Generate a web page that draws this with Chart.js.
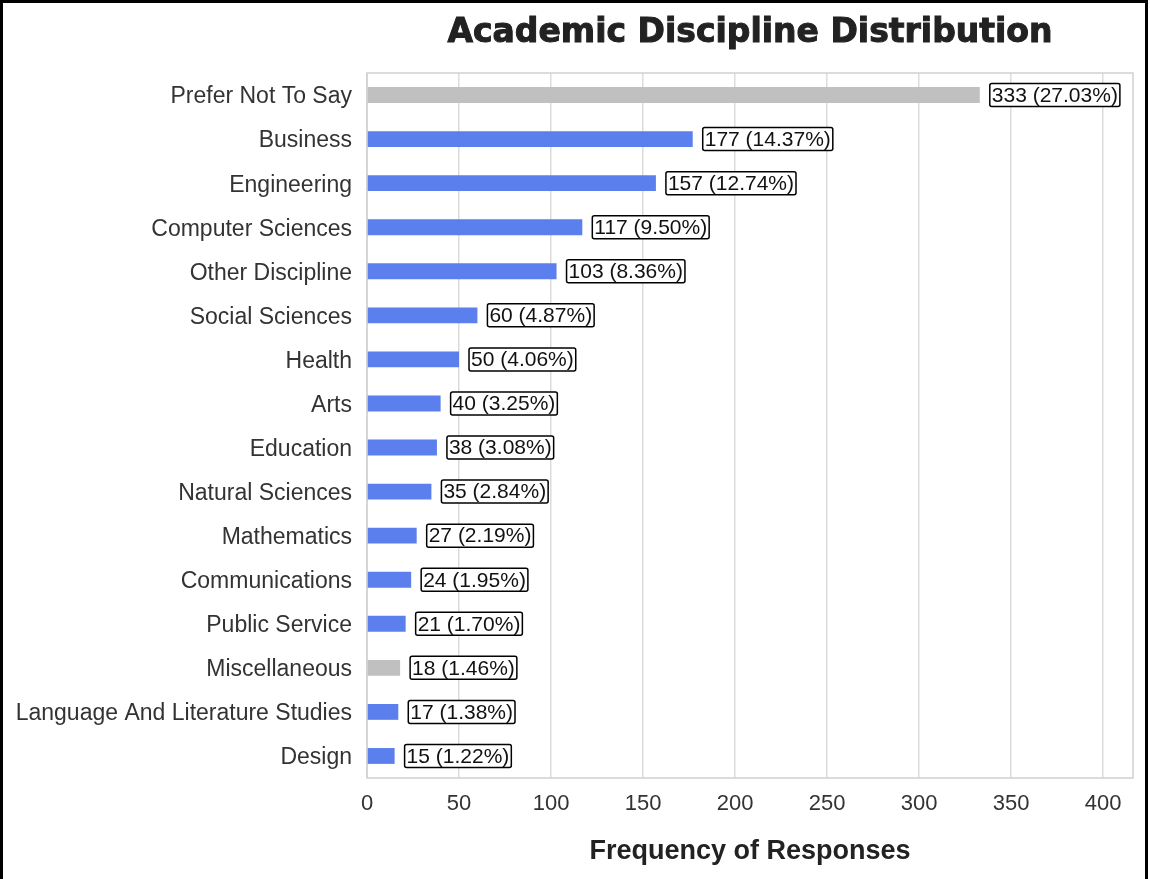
<!DOCTYPE html>
<html>
<head>
<meta charset="utf-8">
<title>Academic Discipline Distribution</title>
<script src="https://cdn.jsdelivr.net/npm/chart.js@4"></script>
<style>
  body { margin: 0; background: #fff; }
  canvas { display: block; }
</style>
</head>
<body>
<canvas id="myChart" width="1150" height="879"></canvas>
<script>
let disciplines = ["Prefer Not To Say", "Business", "Engineering", "Computer Sciences",
    "Other Discipline", "Social Sciences", "Health", "Arts", "Education",
    "Natural Sciences", "Mathematics", "Communications", "Public Service",
    "Miscellaneous", "Language And Literature Studies", "Design"];
let responses = [333, 177, 157, 117, 103, 60, 50, 40, 38, 35, 27, 24, 21, 18, 17, 15];
let xTicks = [0, 50, 100, 150, 200, 250, 300, 350, 400];

let blue = "#5b7fed";
let grey = "#c0c0c0";
// unspecified answers are greyed out
let barColors = disciplines.map(d => (d == "Prefer Not To Say" || d == "Miscellaneous") ? grey : blue);

let total = responses.reduce((a, b) => a + b, 0);
let fontFamily = "'Liberation Sans', Arial, sans-serif";

// title, plot frame and outer page border
const frame = {
    id: "frame",
    beforeDatasetsDraw(chart) {
        const {ctx, chartArea: a} = chart;
        ctx.save();
        ctx.strokeStyle = "#d0d0d0";
        ctx.lineWidth = 1.5;
        ctx.strokeRect(a.left, a.top, a.right - a.left, a.bottom - a.top);
        ctx.restore();
    },
    afterDraw(chart) {
        const {ctx, chartArea: a} = chart;
        ctx.save();
        ctx.font = "bold 33px 'DejaVu Sans', sans-serif";
        ctx.fillStyle = "#222";
        ctx.strokeStyle = "#222";
        ctx.lineWidth = 1;
        ctx.textAlign = "center";
        ctx.textBaseline = "middle";
        ctx.fillText("Academic Discipline Distribution", (a.left + a.right) / 2, 33);
        ctx.strokeText("Academic Discipline Distribution", (a.left + a.right) / 2, 33);

        ctx.strokeStyle = "#000";
        ctx.lineWidth = 3;
        ctx.beginPath();
        ctx.moveTo(1.5, chart.height);
        ctx.lineTo(1.5, 1.5);
        ctx.lineTo(1146.5, 1.5);
        ctx.lineTo(1146.5, chart.height);
        ctx.stroke();
        ctx.restore();
    }
};

// boxed "count (percent)" labels after each bar
const valueLabels = {
    id: "valueLabels",
    afterDatasetsDraw(chart) {
        const ctx = chart.ctx;
        const bars = chart.getDatasetMeta(0).data;
        ctx.save();
        ctx.font = "21px " + fontFamily;
        ctx.textBaseline = "middle";
        bars.forEach((bar, i) => {
            let v = responses[i];
            let text = v + " (" + (v / total * 100).toFixed(2) + "%)";
            let w = ctx.measureText(text).width;
            let x = bar.x + 10;
            let h = 23;
            ctx.beginPath();
            ctx.roundRect(x, bar.y - h / 2, w + 4, h, 2);
            ctx.fillStyle = "#fff";
            ctx.fill();
            ctx.lineWidth = 1.5;
            ctx.strokeStyle = "#000";
            ctx.stroke();
            ctx.fillStyle = "#111";
            ctx.fillText(text, x + 2, bar.y + 1);
        });
        ctx.restore();
    }
};

new Chart("myChart", {
    type: "bar",
    data: {
        labels: disciplines,
        datasets: [{
            data: responses,
            backgroundColor: barColors,
            barPercentage: 0.9,
            categoryPercentage: 0.4
        }]
    },
    options: {
        indexAxis: "y",
        responsive: false,
        animation: false,
        layout: {padding: {top: 73, right: 17, left: 0, bottom: 0}},
        plugins: {
            legend: {display: false},
            tooltip: {enabled: false}
        },
        scales: {
            x: {
                min: 0,
                max: 416.25,
                afterBuildTicks(scale) {
                    scale.ticks = xTicks.map(v => ({value: v}));
                },
                afterFit(scale) { scale.height = 101; },
                grid: {color: "#dcdcdc", lineWidth: 1.5, drawTicks: false},
                border: {display: false},
                ticks: {
                    padding: 13,
                    color: "#333",
                    font: {family: fontFamily, size: 22}
                },
                title: {
                    display: true,
                    text: "Frequency of Responses",
                    color: "#222",
                    padding: {top: 0, bottom: 11},
                    font: {family: fontFamily, size: 27, weight: "bold"}
                }
            },
            y: {
                afterFit(scale) { scale.width = 367; },
                grid: {display: false, drawTicks: false},
                border: {display: false},
                ticks: {
                    padding: 15,
                    labelOffset: 2,
                    color: "#333",
                    font: {family: fontFamily, size: 23}
                }
            }
        }
    },
    plugins: [frame, valueLabels]
});
</script>
</body>
</html>
